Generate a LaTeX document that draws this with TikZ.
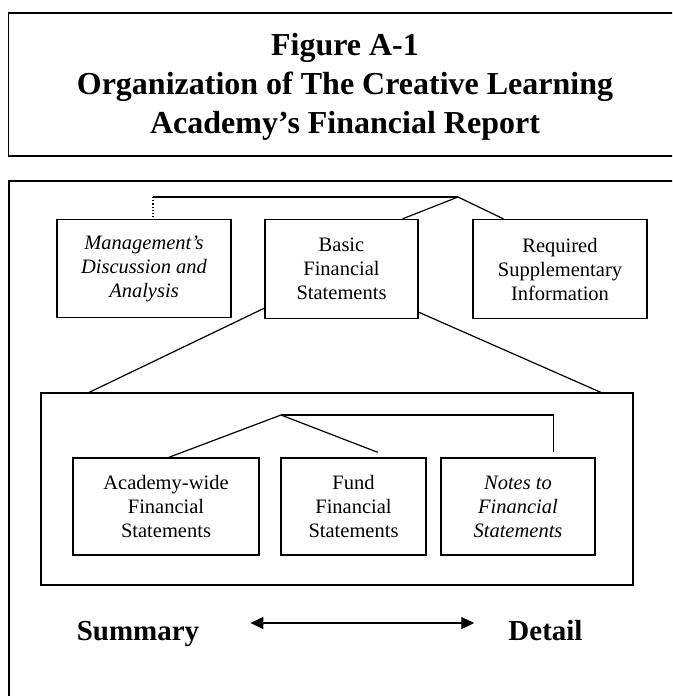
\documentclass[tikz,border=0pt]{standalone}
\usepackage{fontspec}
\setmainfont{Liberation Serif}
\usetikzlibrary{arrows.meta}

\tikzset{
  stmt/.style={draw, line width=1.4pt, align=center, inner sep=0pt,
    font=\fontsize{20.5}{24}\selectfont},
  stmtit/.style={stmt, font=\fontsize{20.5}{24}\selectfont\itshape},
  frame/.style={line width=1.8pt},
  link/.style={line width=1.2pt},
  tag/.style={anchor=base, inner sep=0pt, font=\bfseries\fontsize{29}{34}\selectfont},
}

\begin{document}
\begin{tikzpicture}[x=1pt,y=-1pt]
  \clip (0,0) rectangle (672,696);

  % title box
  \draw[frame] (8.5,13) rectangle (685,156);
  \node[align=center, inner sep=0pt, font=\bfseries\fontsize{32}{39}\selectfont] (title) at (345,87)
    {Figure A-1\\Organization of The Creative Learning\\Academy’s Financial Report};

  % report box
  \draw[frame] (9,181) rectangle (685,720);

  \node[stmtit, minimum width=174pt, minimum height=98pt] (mda) at (144,268.5)
    {Management’s\\Discussion and\\Analysis};
  \node[stmt, minimum width=153pt, minimum height=99pt] (bfs) at (341.5,269)
    {Basic\\Financial\\Statements};
  \node[stmt, minimum width=174pt, minimum height=99pt] (rsi) at (560,269)
    {Required\\Supplementary\\Information};

  \coordinate (mdajoin) at (153,197);
  \coordinate (topjoin) at (458,197);
  \draw[link] (mdajoin) -- (topjoin);
  \draw[link, dotted] (mdajoin) -- (mdajoin |- mda.north);
  \draw[link] (topjoin) -- ([xshift=-16pt]bfs.north east);
  \draw[link] (topjoin) -- ([xshift=31pt]rsi.north west);

  % basic statements
  \node[draw, line width=1.4pt, inner sep=0pt, minimum width=592pt, minimum height=192pt] (fsgroup) at (337,489) {};
  \draw[link] ([yshift=11pt]bfs.south west) -- ([xshift=49pt]fsgroup.north west);
  \draw[link] ([yshift=7pt]bfs.south east) -- ([xshift=-33pt]fsgroup.north east);

  \node[stmt, minimum width=186pt, minimum height=97pt] (afs) at (166,506.5)
    {Academy-wide\\Financial\\Statements};
  \node[stmt, minimum width=145pt, minimum height=97pt] (ffs) at (353.5,506.5)
    {Fund\\Financial\\Statements};
  \node[stmtit, minimum width=154pt, minimum height=97pt] (nfs) at (518,506.5)
    {Notes to\\Financial\\Statements};

  \coordinate (groupjoin) at (281,415);
  \draw[link] (groupjoin) -- ([xshift=3pt]afs.north);
  \draw[link] (groupjoin) -- ([xshift=-49pt,yshift=5pt]ffs.north east);
  \draw[link] (groupjoin) -| ([xshift=-42pt,yshift=5pt]nfs.north east);

  % summary -- detail
  \node[tag] (summ) at (138,640) {Summary};
  \node[tag] (det) at (545.5,640) {Detail};
  \draw[link, {Triangle[length=13pt,width=12pt]}-{Triangle[length=13pt,width=12pt]}]
    ([xshift=51pt,yshift=17pt]summ.base east) -- ([xshift=-34pt,yshift=17pt]det.base west);
\end{tikzpicture}
\end{document}
